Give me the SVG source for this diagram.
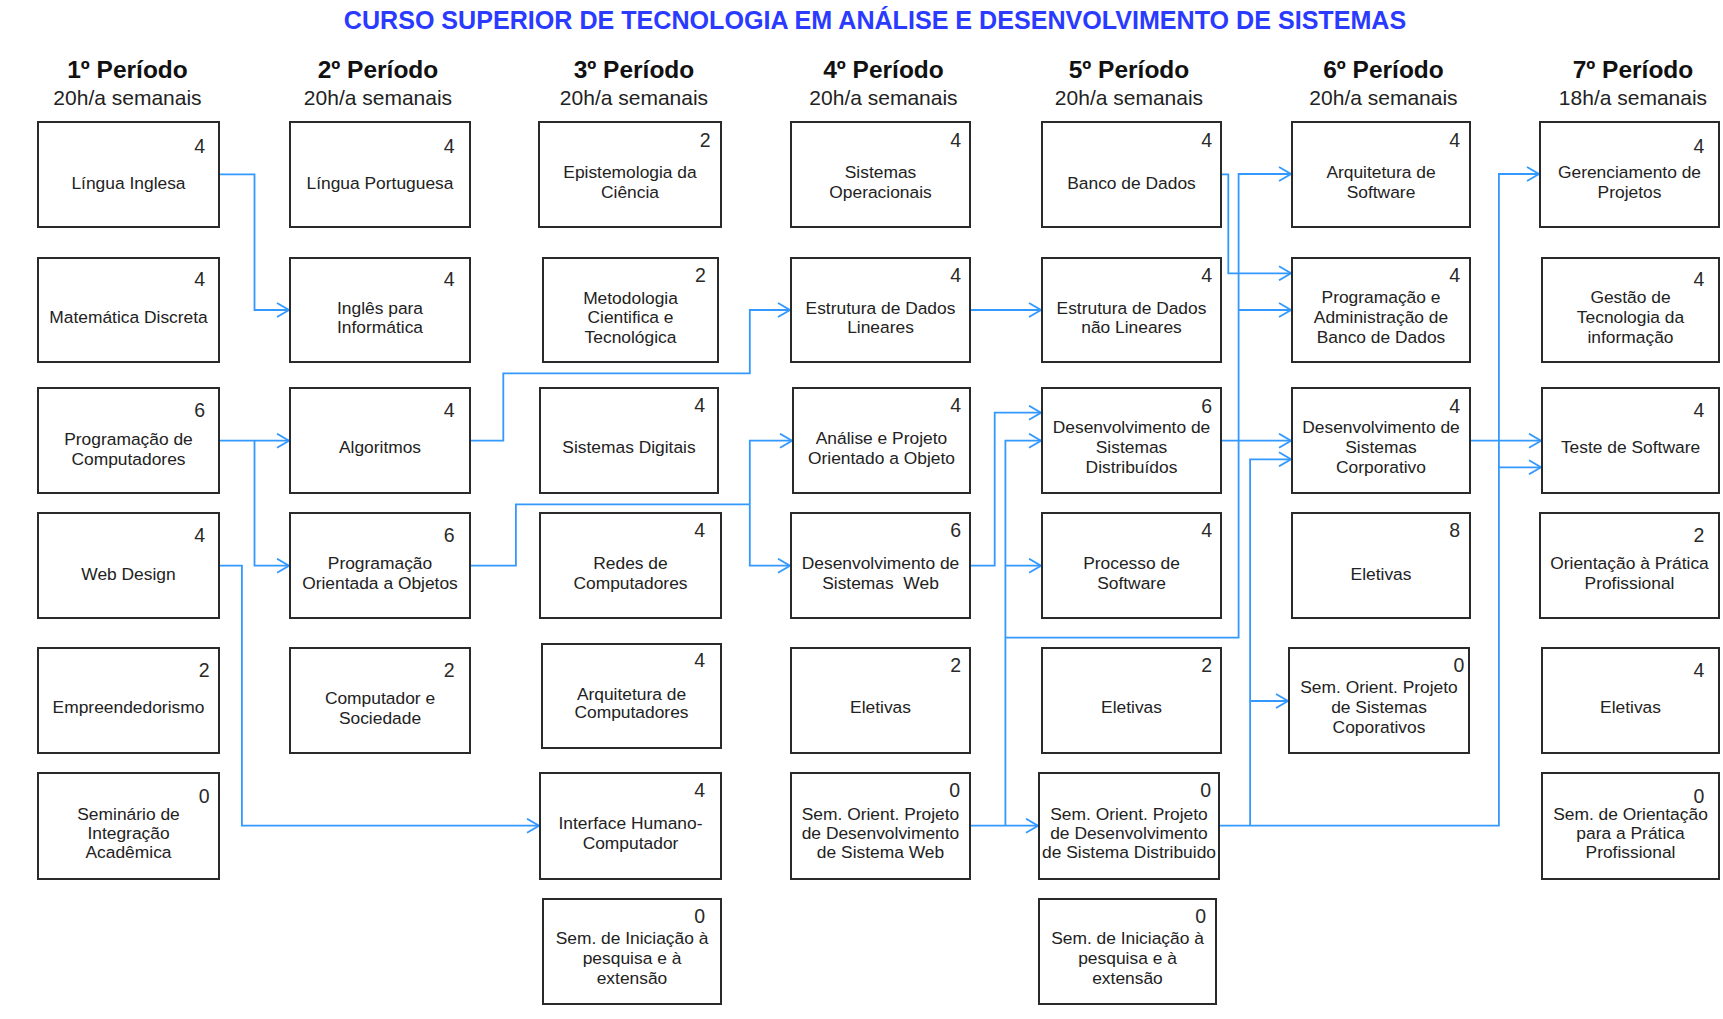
<svg xmlns="http://www.w3.org/2000/svg" width="1723" height="1019" viewBox="0 0 1723 1019">
<style>
.bg{fill:#fff}
.box{fill:#fff;stroke:#2a2a2a;stroke-width:2}
.t{font-family:"Liberation Sans",Arial,sans-serif;font-size:17.4px;fill:#222;text-anchor:middle}
.n{font-family:"Liberation Sans",Arial,sans-serif;font-size:19.5px;fill:#2a2a2a;text-anchor:end}
.h{font-family:"Liberation Sans",Arial,sans-serif;font-size:24.5px;font-weight:bold;fill:#111;text-anchor:middle}
.s{font-family:"Liberation Sans",Arial,sans-serif;font-size:21px;fill:#222;text-anchor:middle}
.title{font-family:"Liberation Sans",Arial,sans-serif;font-size:25.1px;font-weight:bold;fill:#2a3aff;text-anchor:middle}
.c{fill:none;stroke:#3399ff;stroke-width:1.8}
.a{marker-end:url(#arr)}
</style>
<defs>
<marker id="arr" markerUnits="userSpaceOnUse" viewBox="0 0 14 16" refX="13" refY="8" markerWidth="14" markerHeight="16" orient="auto">
<path d="M1,1 L13,8 L1,15" fill="none" stroke="#3399ff" stroke-width="1.8"/>
</marker>
</defs>
<rect class="bg" x="0" y="0" width="1723" height="1019"/>
<text class="title" x="875" y="28.5">CURSO SUPERIOR DE TECNOLOGIA EM ANÁLISE E DESENVOLVIMENTO DE SISTEMAS</text>

<g id="headers">
<text class="h" x="127.5" y="78">1º Período</text><text class="s" x="127.5" y="105">20h/a semanais</text>
<text class="h" x="378" y="78">2º Período</text><text class="s" x="378" y="105">20h/a semanais</text>
<text class="h" x="634" y="78">3º Período</text><text class="s" x="634" y="105">20h/a semanais</text>
<text class="h" x="883.5" y="78">4º Período</text><text class="s" x="883.5" y="105">20h/a semanais</text>
<text class="h" x="1129" y="78">5º Período</text><text class="s" x="1129" y="105">20h/a semanais</text>
<text class="h" x="1383.5" y="78">6º Período</text><text class="s" x="1383.5" y="105">20h/a semanais</text>
<text class="h" x="1633" y="78">7º Período</text><text class="s" x="1633" y="105">18h/a semanais</text>
</g>

<g id="connectors">
<path class="c a" d="M219,174.3 H254.5 V310 H289"/>
<path class="c a" d="M219,440.7 H289"/>
<path class="c a" d="M254.5,440.7 V565.7 H289"/>
<path class="c a" d="M470,440.7 H503.3 V373.3 H749.8 V310 H790"/>
<path class="c" d="M470,565.7 H515.9 V504.3 H749.8"/>
<path class="c a" d="M749.8,504.3 V440.7 H792"/>
<path class="c a" d="M749.8,504.3 V565.7 H790"/>
<path class="c a" d="M219,565.7 H241.9 V825.7 H539"/>
<path class="c a" d="M970,310 H1041"/>
<path class="c a" d="M970,565.7 H994.7 V412.7 H1041"/>
<path class="c a" d="M970,825.7 H1038"/>
<path class="c a" d="M1005.4,825.7 V440.7 H1041"/>
<path class="c a" d="M1005.4,565.7 H1041"/>
<path class="c a" d="M1005.4,637.7 H1238.6 V174 H1291"/>
<path class="c a" d="M1238.6,310 H1291"/>
<path class="c a" d="M1220.6,174.3 H1228.3 V273.3 H1291"/>
<path class="c a" d="M1220.6,440.7 H1291"/>
<path class="c a" d="M1218.7,825.7 H1498.9 V174 H1539"/>
<path class="c a" d="M1250.1,825.7 V459.3 H1291"/>
<path class="c a" d="M1250.1,701 H1288"/>
<path class="c a" d="M1498.9,467.3 H1541"/>
<path class="c a" d="M1470,440.7 H1541"/>
</g>

<!-- Column 1 -->
<g id="n-lingua-inglesa"><rect class="box" x="38" y="122" width="181" height="105"/><text class="n" x="205" y="152.7">4</text><text class="t" x="128.5" y="189.3">Língua Inglesa</text></g>
<g id="n-matematica-discreta"><rect class="box" x="38" y="258" width="181" height="104"/><text class="n" x="205" y="286">4</text><text class="t" x="128.5" y="323.3">Matemática Discreta</text></g>
<g id="n-programacao-computadores"><rect class="box" x="38" y="388" width="181" height="105"/><text class="n" x="205" y="416.7">6</text><text class="t" x="128.5" y="445">Programação de</text><text class="t" x="128.5" y="465">Computadores</text></g>
<g id="n-web-design"><rect class="box" x="38" y="513" width="181" height="105"/><text class="n" x="205" y="541.7">4</text><text class="t" x="128.5" y="580">Web Design</text></g>
<g id="n-empreendedorismo"><rect class="box" x="38" y="648" width="181" height="105"/><text class="n" x="209.7" y="677.3">2</text><text class="t" x="128.5" y="713.3">Empreendedorismo</text></g>
<g id="n-seminario-integracao"><rect class="box" x="38" y="773" width="181" height="106"/><text class="n" x="209.7" y="803.3">0</text><text class="t" x="128.5" y="820">Seminário de</text><text class="t" x="128.5" y="839.3">Integração</text><text class="t" x="128.5" y="858.3">Acadêmica</text></g>

<!-- Column 2 -->
<g id="n-lingua-portuguesa"><rect class="box" x="290" y="122" width="180" height="105"/><text class="n" x="454.7" y="152.7">4</text><text class="t" x="380" y="189.3">Língua Portuguesa</text></g>
<g id="n-ingles-informatica"><rect class="box" x="290" y="258" width="180" height="104"/><text class="n" x="454.7" y="286">4</text><text class="t" x="380" y="314">Inglês para</text><text class="t" x="380" y="333.3">Informática</text></g>
<g id="n-algoritmos"><rect class="box" x="290" y="388" width="180" height="105"/><text class="n" x="454.7" y="416.7">4</text><text class="t" x="380" y="453.3">Algoritmos</text></g>
<g id="n-poo"><rect class="box" x="290" y="513" width="180" height="105"/><text class="n" x="454.7" y="541.7">6</text><text class="t" x="380" y="569">Programação</text><text class="t" x="380" y="589">Orientada a Objetos</text></g>
<g id="n-computador-sociedade"><rect class="box" x="290" y="648" width="180" height="105"/><text class="n" x="454.7" y="677.3">2</text><text class="t" x="380" y="704.3">Computador e</text><text class="t" x="380" y="724.3">Sociedade</text></g>

<!-- Column 3 -->
<g id="n-epistemologia"><rect class="box" x="539" y="122" width="182" height="105"/><text class="n" x="710.7" y="146.7">2</text><text class="t" x="630" y="178.3">Epistemologia da</text><text class="t" x="630" y="198.3">Ciência</text></g>
<g id="n-metodologia"><rect class="box" x="543" y="258" width="175" height="104"/><text class="n" x="705.8" y="281.7">2</text><text class="t" x="630.5" y="304">Metodologia</text><text class="t" x="630.5" y="323.3">Cientifica e</text><text class="t" x="630.5" y="342.7">Tecnológica</text></g>
<g id="n-sistemas-digitais"><rect class="box" x="540" y="388" width="178" height="105"/><text class="n" x="705" y="411.7">4</text><text class="t" x="629" y="453.3">Sistemas Digitais</text></g>
<g id="n-redes"><rect class="box" x="540" y="513" width="181" height="105"/><text class="n" x="705" y="536.7">4</text><text class="t" x="630.5" y="569">Redes de</text><text class="t" x="630.5" y="589">Computadores</text></g>
<g id="n-arquitetura-computadores"><rect class="box" x="542" y="644" width="179" height="104"/><text class="n" x="705" y="666.7">4</text><text class="t" x="631.5" y="700">Arquitetura de</text><text class="t" x="631.5" y="718.3">Computadores</text></g>
<g id="n-ihc"><rect class="box" x="540" y="773" width="181" height="106"/><text class="n" x="705" y="797.3">4</text><text class="t" x="630.5" y="829.3">Interface Humano-</text><text class="t" x="630.5" y="849.3">Computador</text></g>
<g id="n-sem-iniciacao-3"><rect class="box" x="543" y="899" width="178" height="105"/><text class="n" x="705" y="923.3">0</text><text class="t" x="632" y="944">Sem. de Iniciação à</text><text class="t" x="632" y="964">pesquisa e à</text><text class="t" x="632" y="984">extensão</text></g>

<!-- Column 4 -->
<g id="n-sistemas-operacionais"><rect class="box" x="791" y="122" width="179" height="105"/><text class="n" x="961" y="146.7">4</text><text class="t" x="880.5" y="178.3">Sistemas</text><text class="t" x="880.5" y="198.3">Operacionais</text></g>
<g id="n-ed-lineares"><rect class="box" x="791" y="258" width="179" height="104"/><text class="n" x="961" y="281.7">4</text><text class="t" x="880.5" y="314">Estrutura de Dados</text><text class="t" x="880.5" y="333.3">Lineares</text></g>
<g id="n-apoo"><rect class="box" x="793" y="388" width="177" height="105"/><text class="n" x="961" y="411.7">4</text><text class="t" x="881.5" y="444">Análise e Projeto</text><text class="t" x="881.5" y="464">Orientado a Objeto</text></g>
<g id="n-dsw"><rect class="box" x="791" y="513" width="179" height="105"/><text class="n" x="961" y="536.7">6</text><text class="t" x="880.5" y="569">Desenvolvimento de</text><text class="t" x="880.5" y="589" xml:space="preserve">Sistemas  Web</text></g>
<g id="n-eletivas-4"><rect class="box" x="791" y="648" width="179" height="105"/><text class="n" x="961" y="671.7">2</text><text class="t" x="880.5" y="713.3">Eletivas</text></g>
<g id="n-sem-orient-web"><rect class="box" x="791" y="773" width="179" height="106"/><text class="n" x="960" y="796.7">0</text><text class="t" x="880.5" y="820">Sem. Orient. Projeto</text><text class="t" x="880.5" y="839.3">de Desenvolvimento</text><text class="t" x="880.5" y="858.3">de Sistema Web</text></g>

<!-- Column 5 -->
<g id="n-banco-dados"><rect class="box" x="1042" y="122" width="179" height="105"/><text class="n" x="1212" y="146.7">4</text><text class="t" x="1131.5" y="189.3">Banco de Dados</text></g>
<g id="n-ed-nao-lineares"><rect class="box" x="1042" y="258" width="179" height="104"/><text class="n" x="1212" y="281.7">4</text><text class="t" x="1131.5" y="314">Estrutura de Dados</text><text class="t" x="1131.5" y="333.3">não Lineares</text></g>
<g id="n-dsd"><rect class="box" x="1042" y="388" width="179" height="105"/><text class="n" x="1212" y="412.7">6</text><text class="t" x="1131.5" y="433.3">Desenvolvimento de</text><text class="t" x="1131.5" y="453.3">Sistemas</text><text class="t" x="1131.5" y="473.3">Distribuídos</text></g>
<g id="n-processo-software"><rect class="box" x="1042" y="513" width="179" height="105"/><text class="n" x="1212" y="536.7">4</text><text class="t" x="1131.5" y="569">Processo de</text><text class="t" x="1131.5" y="589">Software</text></g>
<g id="n-eletivas-5"><rect class="box" x="1042" y="648" width="179" height="105"/><text class="n" x="1212" y="671.7">2</text><text class="t" x="1131.5" y="713.3">Eletivas</text></g>
<g id="n-sem-orient-dist"><rect class="box" x="1039" y="773" width="180" height="106"/><text class="n" x="1211" y="796.7">0</text><text class="t" x="1129" y="820">Sem. Orient. Projeto</text><text class="t" x="1129" y="839.3">de Desenvolvimento</text><text class="t" x="1129" y="858.3">de Sistema Distribuido</text></g>
<g id="n-sem-iniciacao-5"><rect class="box" x="1039" y="899" width="177" height="105"/><text class="n" x="1206" y="923.3">0</text><text class="t" x="1127.5" y="944">Sem. de Iniciação à</text><text class="t" x="1127.5" y="964">pesquisa e à</text><text class="t" x="1127.5" y="984">extensão</text></g>

<!-- Column 6 -->
<g id="n-arquitetura-software"><rect class="box" x="1292" y="122" width="178" height="105"/><text class="n" x="1460" y="146.7">4</text><text class="t" x="1381" y="178.3">Arquitetura de</text><text class="t" x="1381" y="198.3">Software</text></g>
<g id="n-pabd"><rect class="box" x="1292" y="258" width="178" height="104"/><text class="n" x="1460" y="281.7">4</text><text class="t" x="1381" y="303.3">Programação e</text><text class="t" x="1381" y="322.7">Administração de</text><text class="t" x="1381" y="342.7">Banco de Dados</text></g>
<g id="n-dsc"><rect class="box" x="1292" y="388" width="178" height="105"/><text class="n" x="1460" y="412.7">4</text><text class="t" x="1381" y="433.3">Desenvolvimento de</text><text class="t" x="1381" y="453.3">Sistemas</text><text class="t" x="1381" y="473.3">Corporativo</text></g>
<g id="n-eletivas-6"><rect class="box" x="1292" y="513" width="178" height="105"/><text class="n" x="1460" y="536.7">8</text><text class="t" x="1381" y="580">Eletivas</text></g>
<g id="n-sem-orient-corp"><rect class="box" x="1289" y="648" width="180" height="105"/><text class="n" x="1464.4" y="671.7">0</text><text class="t" x="1379" y="693.3">Sem. Orient. Projeto</text><text class="t" x="1379" y="713.3">de Sistemas</text><text class="t" x="1379" y="733.3">Coporativos</text></g>

<!-- Column 7 -->
<g id="n-gerenciamento-projetos"><rect class="box" x="1540" y="122" width="179" height="105"/><text class="n" x="1704.4" y="152.7">4</text><text class="t" x="1629.5" y="178.3">Gerenciamento de</text><text class="t" x="1629.5" y="198.3">Projetos</text></g>
<g id="n-gestao-ti"><rect class="box" x="1542" y="258" width="177" height="104"/><text class="n" x="1704.4" y="286">4</text><text class="t" x="1630.5" y="303.3">Gestão de</text><text class="t" x="1630.5" y="322.7">Tecnologia da</text><text class="t" x="1630.5" y="342.7">informação</text></g>
<g id="n-teste-software"><rect class="box" x="1542" y="388" width="177" height="105"/><text class="n" x="1704.4" y="416.7">4</text><text class="t" x="1630.5" y="453.3">Teste de Software</text></g>
<g id="n-orientacao-pratica"><rect class="box" x="1540" y="513" width="179" height="105"/><text class="n" x="1704.4" y="541.7">2</text><text class="t" x="1629.5" y="569">Orientação à Prática</text><text class="t" x="1629.5" y="589">Profissional</text></g>
<g id="n-eletivas-7"><rect class="box" x="1542" y="648" width="177" height="105"/><text class="n" x="1704.4" y="676.7">4</text><text class="t" x="1630.5" y="713.3">Eletivas</text></g>
<g id="n-sem-orient-pratica"><rect class="box" x="1542" y="773" width="177" height="106"/><text class="n" x="1704.4" y="803.3">0</text><text class="t" x="1630.5" y="820">Sem. de Orientação</text><text class="t" x="1630.5" y="839.3">para a Prática</text><text class="t" x="1630.5" y="858.3">Profissional</text></g>
</svg>
